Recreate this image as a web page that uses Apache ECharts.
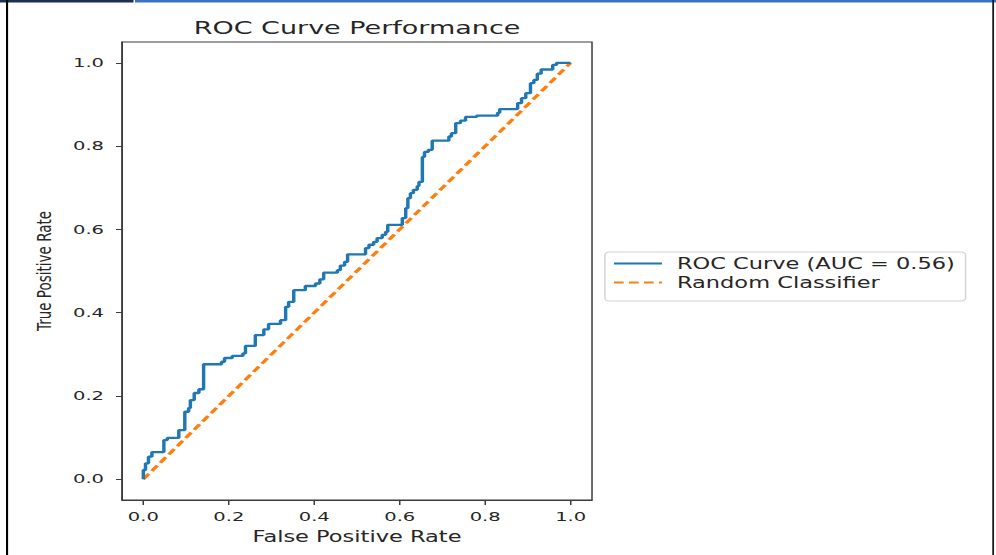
<!DOCTYPE html>
<html>
<head>
<meta charset="utf-8">
<script src="https://cdn.jsdelivr.net/npm/echarts@6/dist/echarts.min.js"></script>
<style>
html,body{margin:0;padding:0;background:#fff;overflow:hidden;}
#wrap{position:relative;width:996px;height:555px;overflow:hidden;}
#chart{position:absolute;left:0;top:0;width:664px;height:555px;transform:scaleX(1.5);transform-origin:0 0;}
</style>
</head>
<body>
<div id="wrap"><div id="chart"></div></div>
<script>
// ROC curve vertices [false positive rate, true positive rate]
const rocPoints = [
[0,0],[0,0.022],[0.005,0.022],[0.005,0.038],[0.012,0.038],[0.012,0.054],[0.020,0.054],[0.020,0.065],
[0.048,0.065],[0.048,0.094],[0.056,0.094],[0.056,0.099],[0.083,0.099],[0.083,0.118],[0.097,0.118],[0.097,0.162],
[0.106,0.162],[0.106,0.171],[0.110,0.171],[0.110,0.190],[0.119,0.190],[0.119,0.207],[0.130,0.207],[0.130,0.216],
[0.141,0.216],[0.141,0.276],[0.183,0.276],[0.183,0.282],[0.190,0.282],[0.190,0.291],[0.208,0.291],[0.208,0.296],
[0.233,0.296],[0.233,0.302],[0.239,0.302],[0.239,0.320],[0.262,0.320],[0.262,0.346],[0.282,0.346],[0.282,0.360],
[0.293,0.360],[0.293,0.373],[0.321,0.373],[0.321,0.382],[0.333,0.382],[0.333,0.414],[0.340,0.414],[0.340,0.426],
[0.352,0.426],[0.352,0.454],[0.379,0.454],[0.379,0.464],[0.403,0.464],[0.403,0.470],[0.413,0.470],[0.413,0.480],
[0.422,0.480],[0.422,0.496],[0.454,0.496],[0.454,0.502],[0.461,0.502],[0.461,0.513],[0.471,0.513],[0.471,0.522],
[0.478,0.522],[0.478,0.540],[0.520,0.540],[0.520,0.555],[0.528,0.555],[0.528,0.563],[0.539,0.563],[0.539,0.570],
[0.547,0.570],[0.547,0.579],[0.559,0.579],[0.559,0.587],[0.567,0.587],[0.567,0.594],[0.572,0.594],[0.572,0.611],
[0.606,0.611],[0.606,0.627],[0.614,0.627],[0.614,0.651],[0.619,0.651],[0.619,0.675],[0.625,0.675],[0.625,0.687],
[0.632,0.687],[0.632,0.695],[0.641,0.695],[0.641,0.704],[0.645,0.704],[0.645,0.714],[0.653,0.714],[0.653,0.774],
[0.658,0.774],[0.658,0.786],[0.667,0.786],[0.667,0.791],[0.676,0.791],[0.676,0.813],[0.715,0.813],[0.715,0.823],
[0.721,0.823],[0.721,0.831],[0.731,0.831],[0.731,0.855],[0.742,0.855],[0.742,0.861],[0.754,0.861],[0.754,0.870],
[0.780,0.870],[0.780,0.873],[0.829,0.873],[0.829,0.880],[0.834,0.880],[0.834,0.889],[0.876,0.889],[0.876,0.903],
[0.885,0.903],[0.885,0.915],[0.895,0.915],[0.895,0.927],[0.906,0.927],[0.906,0.951],[0.914,0.951],[0.914,0.959],
[0.922,0.959],[0.922,0.974],[0.931,0.974],[0.931,0.984],[0.958,0.984],[0.958,0.995],[0.967,0.995],[0.967,1.0],
[1.0,1.0]
];
const diagonalPoints = [[0,0],[1,1]];
const tickValues = [0, 0.2, 0.4, 0.6, 0.8, 1.0];
const seriesNames = ['ROC Curve (AUC = 0.56)', 'Random Classifier'];
const chartTitle = 'ROC Curve Performance';
const xAxisName = 'False Positive Rate';
const yAxisName = 'True Positive Rate';

const FONT = "'DejaVu Sans', sans-serif";
const TXT = '#262626';
const chart = echarts.init(document.getElementById('chart'), null, {renderer: 'svg'});

chart.setOption({
  animation: false,
  backgroundColor: '#ffffff',
  title: {
    text: chartTitle,
    left: 233, top: 14, textAlign: 'center',
    textStyle: {fontFamily: FONT, fontSize: 18, fontWeight: 'normal', color: TXT}
  },
  legend: {
    orient: 'vertical',
    left: 403.3, top: 252,
    padding: [4, 7, 11, 5],
    itemGap: 4,
    itemWidth: 32, itemHeight: 14,
    borderColor: '#d4d4d4', borderWidth: 1, borderRadius: 3,
    backgroundColor: '#ffffff',
    itemStyle: {opacity: 0},
    textStyle: {fontFamily: FONT, fontSize: 15, color: TXT, padding: [0, 0, 0, 5]},
    data: seriesNames
  },
  grid: {
    left: 81.33, right: 269.33, top: 42, bottom: 55,
    show: true, borderColor: '#3a3a3a', borderWidth: 1, backgroundColor: 'transparent'
  },
  xAxis: {
    type: 'value', min: -0.05, max: 1.05,
    name: xAxisName, nameLocation: 'middle', nameGap: 29,
    nameTextStyle: {fontFamily: FONT, fontSize: 15, color: TXT},
    axisLine: {show: true, onZero: false, lineStyle: {color: '#3a3a3a', width: 1}},
    axisTick: {show: true, length: 5, customValues: tickValues, lineStyle: {color: '#3a3a3a', width: 1}},
    axisLabel: {customValues: tickValues, margin: 10, fontFamily: FONT, fontSize: 13, color: TXT,
      formatter: v => v.toFixed(1)},
    splitLine: {show: false}
  },
  yAxis: {
    type: 'value', min: -0.05, max: 1.05,
    name: yAxisName, nameLocation: 'middle', nameGap: 45, nameRotate: 90,
    nameTextStyle: {fontFamily: FONT, fontSize: 13.5, color: TXT},
    axisLine: {show: true, onZero: false, lineStyle: {color: '#3a3a3a', width: 1}},
    axisTick: {show: true, length: 4, customValues: tickValues, lineStyle: {color: '#3a3a3a', width: 1}},
    axisLabel: {customValues: tickValues, margin: 12, fontFamily: FONT, fontSize: 13, color: TXT,
      formatter: v => v.toFixed(1)},
    splitLine: {show: false}
  },
  series: [
    {
      name: seriesNames[0], type: 'line', data: rocPoints,
      symbol: 'none', smooth: false,
      lineStyle: {color: '#1f77b4', width: 2.3},
      itemStyle: {color: '#1f77b4'},
      z: 3
    },
    {
      name: seriesNames[1], type: 'line', data: diagonalPoints,
      symbol: 'none',
      lineStyle: {color: '#ff7f0e', width: 2.6, type: [6.5, 3.5]},
      itemStyle: {color: '#ff7f0e'},
      z: 2
    }
  ],
  graphic: [
    {type: 'rect', shape: {x: 0, y: 0, width: 89, height: 2.5}, style: {fill: '#1c2f52'}, silent: true},
    {type: 'rect', shape: {x: 90, y: 0, width: 574, height: 2.5}, style: {fill: '#3a74c0'}, silent: true},
    {type: 'rect', shape: {x: 4, y: 0, width: 1.4, height: 555}, style: {fill: '#000000'}, silent: true},
    {type: 'rect', shape: {x: 661.5, y: 0, width: 1.2, height: 555}, style: {fill: '#1a1a1a'}, silent: true}
  ]
});
</script>
</body>
</html>
